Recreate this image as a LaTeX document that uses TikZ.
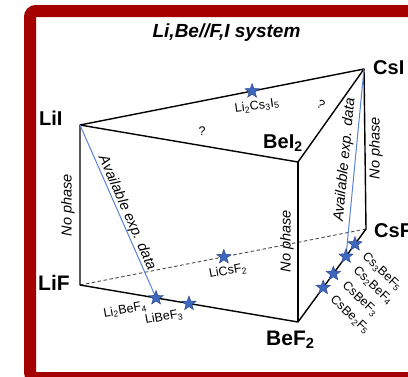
\documentclass[tikz,border=0pt]{standalone}
\usepackage{fontspec}
\setmainfont{Liberation Sans}
\usetikzlibrary{shapes.geometric,calc}
\definecolor{framered}{RGB}{165,0,0}
\definecolor{expline}{RGB}{90,130,215}
\definecolor{starfill}{RGB}{62,104,190}
\definecolor{staredge}{RGB}{35,60,130}
\newcommand{\sub}[1]{\textsubscript{#1}}

\begin{document}
\begin{tikzpicture}[x=1pt,y=-1pt,
  edge/.style={line width=1.4pt, black, line join=round},
  hidden/.style={line width=0.9pt, black!70, dash pattern=on 3.5pt off 2.5pt},
  expl/.style={line width=1pt, expline},
  cmpd/.style={star, star points=5, star point ratio=2.4, minimum size=15pt,
    inner sep=0pt, fill=starfill, draw=staredge, line width=0.4pt},
  vlabel/.style={font=\fontsize{20}{20}\selectfont\bfseries, inner sep=0pt, anchor=base west},
  note/.style={font=\fontsize{14.5}{15}\selectfont\itshape, inner sep=0pt},
  clabel/.style={font=\fontsize{12.5}{13}\selectfont, inner sep=0pt},
]
\useasboundingbox (0,0) rectangle (408,376);
\clip (0,0) rectangle (408,376);
\fill[white] (0,0) rectangle (408,376);

% outer frame
\draw[framered, line width=12pt, rounded corners=6pt] (30,11) rectangle (420,378);

% title
\node[font=\fontsize{19}{19}\selectfont\bfseries\itshape, inner sep=0pt, anchor=base]
  (title) at (226.5,37) {Li,Be//F,I system};

% prism corners
\coordinate (LiI) at (80,125);
\coordinate (CsI) at (364,69);
\coordinate (BeI) at (298,162);
\coordinate (LiF) at (80,285);
\coordinate (BeF) at (298,322);
\coordinate (CsF) at (366,229);

% hidden back edge
\draw[hidden] (LiF) -- (CsF);

% visible edges
\draw[edge] (LiI) -- (CsI) -- (BeI) -- cycle;
\draw[edge] (LiI) -- (LiF) -- (BeF) -- (CsF) -- (CsI);
\draw[edge] (BeI) -- (BeF);

% compounds
\coordinate (pLiCsI) at ($(LiI)!0.606!(CsI)$);
\coordinate (pLiCsF) at ($(LiF)!0.503!(CsF)$);
\coordinate (pLi2BeF) at ($(LiF)!0.349!(BeF)$);
\coordinate (pLiBeF) at ($(LiF)!0.5!(BeF)$);
\coordinate (pCs3) at ($(BeF)!0.838!(CsF)$);
\coordinate (pCs2) at ($(BeF)!0.706!(CsF)$);
\coordinate (pCs1) at ($(BeF)!0.52!(CsF)$);
\coordinate (pCsBe2) at ($(BeF)!0.37!(CsF)$);

% sections with experimental data
\draw[expl] (LiI) -- (pLi2BeF);
\draw[expl] (CsI) -- (pCs2);

\foreach \p in {pLiCsI,pLiCsF,pLi2BeF,pLiBeF,pCs3,pCs2,pCs1,pCsBe2}
  \node[cmpd] (s\p) at (\p) {};

% corner labels
\node[vlabel] (tLiI) at (39,125) {LiI};
\node[vlabel] (tCsI) at (373,74) {CsI};
\node[vlabel] (tBeI) at (263,148) {BeI\sub{2}};
\node[vlabel, font=\fontsize{21}{21}\selectfont\bfseries] (tLiF) at (38,290) {LiF};
\node[vlabel, font=\fontsize{21}{21}\selectfont\bfseries] (tBeF) at (266,345) {BeF\sub{2}};
\node[vlabel] (tCsF) at (374,237) {CsF};

% compound labels
\node[clabel, rotate=8] (lLiCsI) at (257,106) {Li\sub{2}Cs\sub{3}I\sub{5}};
\node[clabel, rotate=10] (lLiCsF) at (228,271) {LiCsF\sub{2}};
\node[clabel, rotate=10] (lLi2BeF) at (125,310) {Li\sub{2}BeF\sub{4}};
\node[clabel, rotate=10] (lLiBeF) at (164,317) {LiBeF\sub{3}};
\node[clabel, rotate=-43] (lCs3) at (382,272) {Cs\sub{3}BeF\sub{5}};
\node[clabel, rotate=-43] (lCs2) at (373,286) {Cs\sub{2}BeF\sub{4}};
\node[clabel, rotate=-43] (lCs1) at (360,299) {CsBeF\sub{3}};
\node[clabel, rotate=-43] (lCsBe2) at (350,315) {CsBe\sub{2}F\sub{5}};

% notes
\node[note, rotate=90] (n1) at (68,205) {No phase};
\node[note, rotate=90] (n2) at (287,241) {No phase};
\node[note, rotate=90] (n3) at (376,148) {No phase};
\node[note, rotate=-66.3] (a1) at (127,213) {Available exp. data};
\node[note, rotate=84.5] (a2) at (345,160) {Available exp. data};
\node[clabel] (q1) at (202,131) {?};
\node[clabel, rotate=-30] (q2) at (321,104) {?};
\end{tikzpicture}
\end{document}
